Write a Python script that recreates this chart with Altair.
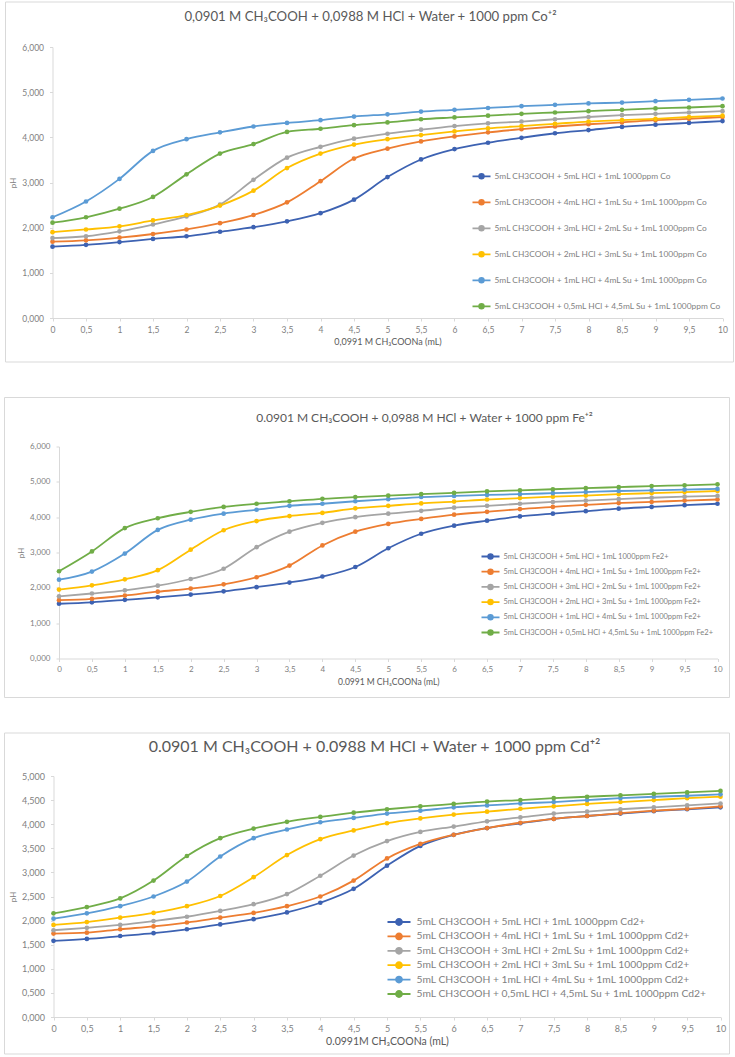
import altair as alt
import pandas as pd

# Added volume of 0.0991 M CH3COONa (mL)
VOLUME = [0, 0.5, 1, 1.5, 2, 2.5, 3, 3.5, 4, 4.5, 5, 5.5, 6, 6.5, 7, 7.5, 8, 8.5, 9, 9.5, 10]

# Excel-style series colours, in series order (5, 4, 3, 2, 1, 0.5 mL HCl)
COLORS = ["#3D62B2", "#ED7D31", "#A5A5A5", "#FFC000", "#5B9BD5", "#70AD47"]

# ---- Co(II) titration curves (pH) ----
CO_5HCL = [1.58, 1.62, 1.68, 1.75, 1.81, 1.91, 2.01, 2.14, 2.32, 2.62, 3.12, 3.51, 3.74, 3.88, 3.99, 4.09, 4.16, 4.23, 4.28, 4.32, 4.36]
CO_4HCL = [1.69, 1.72, 1.78, 1.86, 1.96, 2.10, 2.28, 2.56, 3.03, 3.53, 3.75, 3.91, 4.02, 4.11, 4.18, 4.24, 4.29, 4.33, 4.38, 4.41, 4.45]
CO_3HCL = [1.77, 1.81, 1.92, 2.07, 2.25, 2.51, 3.06, 3.55, 3.79, 3.97, 4.08, 4.17, 4.25, 4.31, 4.35, 4.40, 4.45, 4.49, 4.52, 4.55, 4.58]
CO_2HCL = [1.90, 1.96, 2.03, 2.16, 2.28, 2.49, 2.82, 3.32, 3.64, 3.84, 3.96, 4.05, 4.13, 4.20, 4.25, 4.30, 4.35, 4.38, 4.41, 4.45, 4.48]
CO_1HCL = [2.23, 2.58, 3.08, 3.70, 3.96, 4.11, 4.24, 4.32, 4.38, 4.46, 4.51, 4.57, 4.61, 4.65, 4.69, 4.72, 4.75, 4.77, 4.80, 4.83, 4.86]
CO_05HCL = [2.11, 2.23, 2.42, 2.68, 3.18, 3.64, 3.85, 4.12, 4.19, 4.27, 4.33, 4.40, 4.44, 4.48, 4.52, 4.55, 4.58, 4.61, 4.64, 4.66, 4.69]
CO_LABELS = [
    "5mL CH3COOH + 5mL HCl + 1mL 1000ppm Co",
    "5mL CH3COOH + 4mL HCl + 1mL Su + 1mL 1000ppm Co",
    "5mL CH3COOH + 3mL HCl + 2mL Su + 1mL 1000ppm Co",
    "5mL CH3COOH + 2mL HCl + 3mL Su + 1mL 1000ppm Co",
    "5mL CH3COOH + 1mL HCl + 4mL Su + 1mL 1000ppm Co",
    "5mL CH3COOH + 0,5mL HCl + 4,5mL Su + 1mL 1000ppm Co",
]

# ---- Fe(II) titration curves (pH) ----
FE_5HCL = [1.55, 1.59, 1.66, 1.73, 1.81, 1.90, 2.02, 2.15, 2.32, 2.59, 3.12, 3.53, 3.76, 3.90, 4.02, 4.10, 4.17, 4.24, 4.29, 4.34, 4.38]
FE_4HCL = [1.65, 1.69, 1.78, 1.89, 1.98, 2.10, 2.30, 2.63, 3.20, 3.59, 3.81, 3.95, 4.07, 4.15, 4.23, 4.29, 4.35, 4.40, 4.43, 4.47, 4.50]
FE_3HCL = [1.76, 1.84, 1.93, 2.06, 2.25, 2.54, 3.15, 3.59, 3.84, 4.00, 4.10, 4.18, 4.27, 4.32, 4.38, 4.43, 4.47, 4.51, 4.55, 4.58, 4.60]
FE_2HCL = [1.95, 2.07, 2.24, 2.50, 3.08, 3.63, 3.89, 4.03, 4.12, 4.25, 4.32, 4.39, 4.44, 4.50, 4.54, 4.58, 4.61, 4.65, 4.68, 4.71, 4.74]
FE_1HCL = [2.23, 2.46, 2.97, 3.64, 3.93, 4.10, 4.21, 4.32, 4.38, 4.45, 4.51, 4.57, 4.60, 4.63, 4.65, 4.68, 4.71, 4.74, 4.76, 4.78, 4.80]
FE_05HCL = [2.47, 3.03, 3.69, 3.97, 4.15, 4.29, 4.38, 4.45, 4.52, 4.57, 4.61, 4.65, 4.69, 4.73, 4.76, 4.79, 4.82, 4.85, 4.88, 4.90, 4.93]
FE_LABELS = [
    "5mL CH3COOH + 5mL HCl + 1mL 1000ppm Fe2+",
    "5mL CH3COOH + 4mL HCl + 1mL Su + 1mL 1000ppm Fe2+",
    "5mL CH3COOH + 3mL HCl + 2mL Su + 1mL 1000ppm Fe2+",
    "5mL CH3COOH + 2mL HCl + 3mL Su + 1mL 1000ppm Fe2+",
    "5mL CH3COOH + 1mL HCl + 4mL Su + 1mL 1000ppm Fe2+",
    "5mL CH3COOH + 0,5mL HCl + 4,5mL Su + 1mL 1000ppm Fe2+",
]

# ---- Cd(II) titration curves (pH) ----
CD_5HCL = [1.58, 1.62, 1.68, 1.74, 1.82, 1.92, 2.03, 2.17, 2.37, 2.66, 3.14, 3.55, 3.78, 3.92, 4.02, 4.11, 4.17, 4.22, 4.27, 4.31, 4.35]
CD_4HCL = [1.73, 1.75, 1.82, 1.88, 1.96, 2.06, 2.16, 2.30, 2.50, 2.83, 3.29, 3.59, 3.78, 3.92, 4.03, 4.11, 4.17, 4.23, 4.28, 4.32, 4.37]
CD_3HCL = [1.80, 1.85, 1.91, 1.99, 2.08, 2.20, 2.34, 2.55, 2.93, 3.35, 3.65, 3.84, 3.95, 4.06, 4.14, 4.22, 4.26, 4.31, 4.35, 4.39, 4.43]
CD_2HCL = [1.91, 1.97, 2.06, 2.16, 2.30, 2.51, 2.90, 3.36, 3.69, 3.87, 4.02, 4.12, 4.20, 4.26, 4.32, 4.37, 4.42, 4.46, 4.50, 4.54, 4.57]
CD_1HCL = [2.04, 2.15, 2.30, 2.50, 2.81, 3.33, 3.71, 3.89, 4.04, 4.13, 4.22, 4.28, 4.35, 4.39, 4.43, 4.46, 4.50, 4.54, 4.57, 4.59, 4.62]
CD_05HCL = [2.15, 2.28, 2.46, 2.83, 3.34, 3.71, 3.91, 4.05, 4.15, 4.24, 4.31, 4.37, 4.42, 4.47, 4.50, 4.54, 4.57, 4.60, 4.63, 4.66, 4.69]
CD_LABELS = [
    "5mL CH3COOH + 5mL HCl + 1mL 1000ppm Cd2+",
    "5mL CH3COOH + 4mL HCl + 1mL Su + 1mL 1000ppm Cd2+",
    "5mL CH3COOH + 3mL HCl + 2mL Su + 1mL 1000ppm Cd2+",
    "5mL CH3COOH + 2mL HCl + 3mL Su + 1mL 1000ppm Cd2+",
    "5mL CH3COOH + 1mL HCl + 4mL Su + 1mL 1000ppm Cd2+",
    "5mL CH3COOH + 0,5mL HCl + 4,5mL Su + 1mL 1000ppm Cd2+",
]

FONT = "Lato"
TEXT_GRAY = "#595959"
LABEL_GRAY = "#7f7f7f"
RULE_GRAY = "#d9d9d9"
# legend symbol: a short line with a dot in the middle (unit square path)
LEGEND_SYMBOL = "M-1,0L1,0M-0.26,0A0.26,0.26 0 1,1 0.26,0A0.26,0.26 0 1,1 -0.26,0Z"

# The stacked panels share one view origin (the widest left margin);
# each panel's own axis start is expressed relative to it.
ORIGIN_X = 58.5


def long_table(series, labels):
    rows = []
    for values, label in zip(series, labels):
        for v, ph in zip(VOLUME, values):
            rows.append({"volume": v, "pH": ph, "series": label})
    return pd.DataFrame(rows)


def panel(series, labels, g):
    df = long_table(series, labels)
    one = pd.DataFrame({"k": [0]})
    x0 = g["axis_x"][0] - ORIGIN_X          # left end of the x range
    x1 = g["axis_x"][1] - ORIGIN_X          # right end of the x range
    w, h = round(x1), g["height"]

    def rx(px):
        return px - ORIGIN_X

    frame = alt.Chart(one).mark_rect(
        fill="white", fillOpacity=0, stroke=RULE_GRAY, strokeWidth=1
    ).encode(
        x=alt.value(rx(g["frame_x"][0])), x2=alt.value(rx(g["frame_x"][1])),
        y=alt.value(g["frame_y"][0]), y2=alt.value(g["frame_y"][1]),
    )

    title = alt.Chart(one).mark_text(
        text=g["title"], font=FONT, fontSize=g["title_size"], color=TEXT_GRAY,
        align="center", baseline="middle",
    ).encode(x=alt.value(rx(g["title_x"])), y=alt.value(g["title_y"]))

    x_enc = alt.X(
        "volume:Q",
        scale=alt.Scale(domain=[0, 10], range=[x0, x1], nice=False, zero=False),
        axis=alt.Axis(
            values=VOLUME, labelExpr="replace(format(datum.value, '~g'), '.', ',')",
            title=g["xtitle"], titleFont=FONT, titleFontSize=g["xtitle_size"],
            titleFontWeight="normal", titleColor=TEXT_GRAY, titlePadding=g["xtitle_pad"],
            labelFont=FONT, labelFontSize=g["tick_size"], labelColor=LABEL_GRAY,
            labelPadding=g["xlabel_pad"], labelFlush=False, labelOverlap=False,
            domainColor=RULE_GRAY, tickColor=RULE_GRAY, tickSize=3, grid=False,
        ),
    )
    y_enc = alt.Y(
        "pH:Q",
        scale=alt.Scale(domain=[0, g["ymax"]], nice=False),
        axis=alt.Axis(
            values=g["yticks"], labelExpr="replace(format(datum.value, '.3f'), '.', ',')",
            title="pH", titleFont=FONT, titleFontSize=8, titleFontWeight="normal",
            titleColor=LABEL_GRAY, titlePadding=4, offset=-x0,
            labelFont=FONT, labelFontSize=g["tick_size"], labelColor=LABEL_GRAY,
            labelPadding=6, domainColor=RULE_GRAY, tickColor=RULE_GRAY, tickSize=3, grid=False,
        ),
    )

    legend = alt.Legend(
        orient="none", legendX=rx(g["legend_x"]), legendY=g["legend_y"],
        title=None, padding=0, symbolType=LEGEND_SYMBOL, symbolSize=g["sym_size"],
        symbolStrokeWidth=1.8, labelFont=FONT, labelFontSize=g["legend_size"],
        labelColor=LABEL_GRAY, labelOffset=g["label_offset"], labelLimit=0,
        rowPadding=g["row_pad"], clipHeight=g["clip_h"],
    )
    scale = alt.Scale(domain=labels, range=COLORS)

    lines = alt.Chart(df).mark_line(interpolate="monotone", strokeWidth=1.8).encode(
        x=x_enc, y=y_enc,
        color=alt.Color("series:N", scale=scale, sort=labels, legend=legend),
    )
    points = alt.Chart(df).mark_point(filled=True, size=22, opacity=1).encode(
        x=x_enc, y=y_enc,
        fill=alt.Fill("series:N", scale=scale, sort=labels, legend=legend),
    )
    return alt.layer(frame, lines, points, title).properties(width=w, height=h)


co = panel(
    [CO_5HCL, CO_4HCL, CO_3HCL, CO_2HCL, CO_1HCL, CO_05HCL], CO_LABELS,
    dict(axis_x=(52, 722), height=271, frame_x=(5, 733), frame_y=(-45, 315),
         title="0,0901 M CH₃COOH + 0,0988 M HCl + Water + 1000 ppm Co⁺²",
         title_size=13.2, title_x=370, title_y=-30,
         xtitle="0,0991 M CH₃COONa (mL)", xtitle_size=9, xtitle_pad=4,
         tick_size=8.5, xlabel_pad=4, ymax=6, yticks=[0, 1, 2, 3, 4, 5, 6],
         legend_x=471, legend_y=117, sym_size=324, legend_size=8.4, label_offset=3,
         row_pad=1, clip_h=24.6),
)

fe = panel(
    [FE_5HCL, FE_4HCL, FE_3HCL, FE_2HCL, FE_1HCL, FE_05HCL], FE_LABELS,
    dict(axis_x=(58.5, 717), height=212, frame_x=(4, 729), frame_y=(-49, 251),
         title="0.0901 M CH₃COOH + 0,0988 M HCl + Water + 1000 ppm Fe⁺²",
         title_size=12, title_x=424, title_y=-29,
         xtitle="0.0991 M CH₃COONa (mL)", xtitle_size=8.5, xtitle_pad=4,
         tick_size=8, xlabel_pad=4, ymax=6, yticks=[0, 1, 2, 3, 4, 5, 6],
         legend_x=480, legend_y=102.5, sym_size=324, legend_size=7.5, label_offset=3,
         row_pad=0.2, clip_h=15),
)

cd = panel(
    [CD_5HCL, CD_4HCL, CD_3HCL, CD_2HCL, CD_1HCL, CD_05HCL], CD_LABELS,
    dict(axis_x=(53, 720), height=241, frame_x=(4, 729), frame_y=(-43, 278),
         title="0.0901 M CH₃COOH + 0.0988 M HCl + Water + 1000 ppm Cd⁺²",
         title_size=16, title_x=374, title_y=-29,
         xtitle="0.0991M CH₃COONa (mL)", xtitle_size=10.5, xtitle_pad=3,
         tick_size=9, xlabel_pad=4.5, ymax=5,
         yticks=[0, 0.5, 1, 1.5, 2, 2.5, 3, 3.5, 4, 4.5, 5],
         legend_x=386, legend_y=139, sym_size=529, legend_size=10.3, label_offset=5,
         row_pad=0.4, clip_h=14),
)

# one column of independent panels, each placed by its own frame
chart = alt.concat(co, fe, cd, columns=1, spacing=33.5, align="none").resolve_scale(
    color="independent", fill="independent", x="independent", y="independent"
).resolve_legend(
    color="independent", fill="independent"
).properties(
    padding={"left": 4, "top": 1, "right": 0, "bottom": 0},
    background="white",
).configure_view(stroke=None)

chart.save("out.html", embed_options={"renderer": "svg", "actions": False})
